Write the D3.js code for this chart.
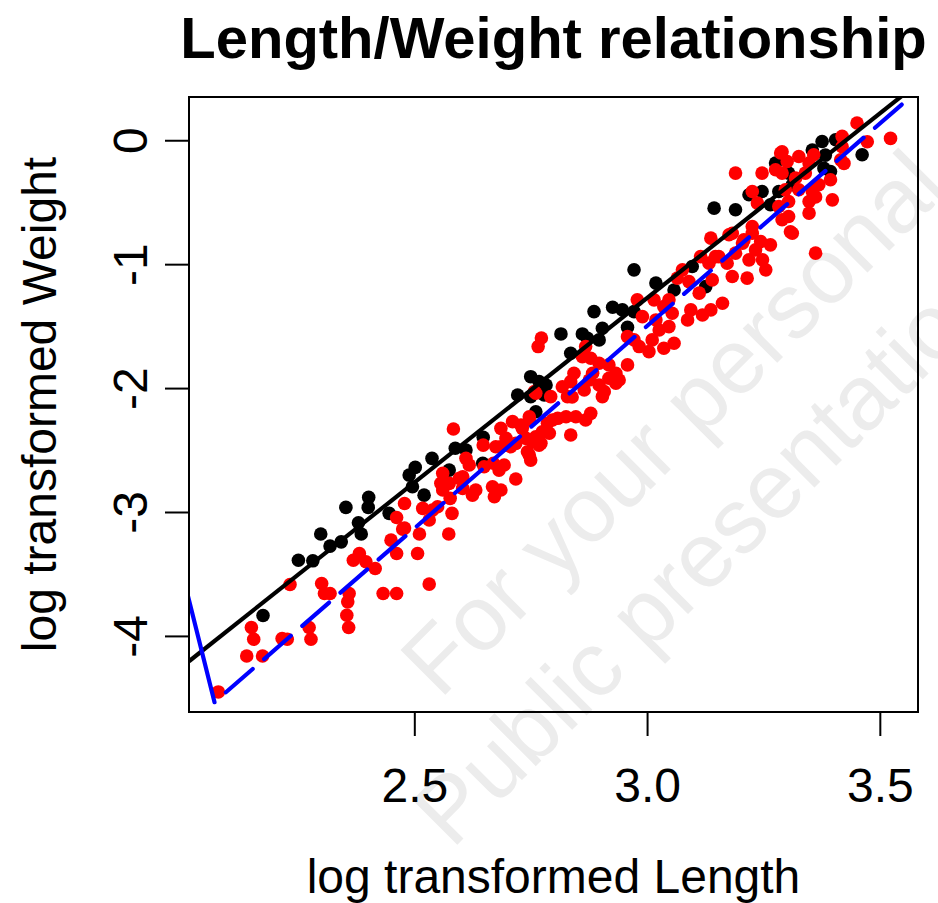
<!DOCTYPE html>
<html>
<head>
<meta charset="utf-8">
<script src="https://cdn.jsdelivr.net/npm/d3@7"></script>
<style>
  html, body { margin: 0; padding: 0; background: #fff; }
  svg { display: block; font-family: "Liberation Sans", Arial, Helvetica, sans-serif; }
</style>
</head>
<body>
<svg id="chart" width="938" height="903"></svg>
<script>
// Group 1 (black): log length / log weight
const blackLen = [2.175, 2.251, 2.282, 2.319, 2.343, 2.299, 2.353, 2.380, 2.386, 2.402,
  2.401, 2.446, 2.489, 2.502, 2.496, 2.521, 2.538, 2.575, 2.588, 2.611,
  2.648, 2.647, 2.722, 2.750, 2.761, 2.775, 2.815, 2.861, 2.872, 2.904,
  2.897, 2.958, 2.836, 2.750, 2.768, 2.783, 2.972, 3.019, 3.058, 2.886,
  2.926, 2.947, 2.972, 3.097, 3.126, 3.376, 3.405, 3.462, 3.276, 3.304,
  3.312, 3.394, 3.144, 3.190, 3.219, 3.247, 3.283, 3.265, 3.355, 3.383,
  3.380, 2.779];
const blackWt = [-3.835, -3.389, -3.394, -3.275, -3.241, -3.178, -2.963, -3.087, -3.178, -2.882,
  -2.963, -3.011, -2.702, -2.640, -2.796, -2.864, -2.567, -2.662, -2.486, -2.500,
  -2.397, -2.607, -2.056, -2.069, -2.191, -1.989, -1.563, -1.563, -1.598, -1.517,
  -1.611, -1.509, -1.719, -1.908, -1.948, -1.975, -1.046, -1.153, -1.208, -1.383,
  -1.348, -1.369, -1.383, -1.019, -1.181, -0.010, 0.004, -0.117, -0.184, -0.265,
  -0.359, -0.252, -0.548, -0.561, -0.440, -0.414, -0.414, -0.521, -0.079, -0.120,
  -0.227, -2.056];

// Group 2 (red): log length / log weight
const redLen = [2.079, 2.140, 2.174, 2.150, 2.155, 2.216, 2.227, 2.233, 2.301, 2.307,
  2.319, 2.274, 2.278, 2.360, 2.357, 2.355, 2.359, 2.369, 2.382, 2.396,
  2.416, 2.433, 2.462, 2.532, 2.462, 2.462, 2.450, 2.475, 2.507, 2.479,
  2.511, 2.518, 2.532, 2.539, 2.550, 2.574, 2.561, 2.575, 2.581, 2.577,
  2.584, 2.597, 2.604, 2.625, 2.618, 2.611, 2.648, 2.650, 2.672, 2.668,
  2.682, 2.693, 2.718, 2.686, 2.711, 2.732, 2.747, 2.718, 2.754, 2.772,
  2.747, 2.761, 2.790, 2.797, 2.675, 2.670, 2.561, 2.557, 2.604, 2.632,
  2.479, 2.773, 2.766, 2.958, 2.868, 2.861, 2.879, 2.897, 2.918, 2.933,
  2.918, 2.897, 2.908, 2.876, 2.865, 2.843, 2.836, 2.818, 2.829, 2.958,
  2.940, 2.883, 2.758, 2.793, 2.826, 2.847, 2.868, 2.808, 2.786, 2.747,
  2.729, 2.697, 2.686, 2.707, 2.740, 2.761, 2.768, 2.743, 2.750, 2.836,
  2.775, 2.686, 3.137, 3.176, 3.208, 3.226, 3.219, 3.215, 3.183, 3.172,
  3.162, 3.137, 3.119, 3.094, 3.087, 3.076, 3.065, 3.090, 3.112, 3.133,
  3.147, 3.047, 3.036, 3.054, 3.019, 3.047, 3.015, 2.990, 3.026, 3.058,
  3.036, 3.011, 3.004, 2.983, 2.972, 2.979, 2.933, 2.904, 2.879, 3.419,
  3.451, 3.287, 3.326, 3.358, 3.348, 3.301, 3.190, 3.247, 3.276, 3.290,
  3.319, 3.340, 3.297, 3.326, 3.355, 3.369, 3.394, 3.416, 3.398, 3.362,
  3.226, 3.237, 3.283, 3.304, 3.348, 3.348, 3.304, 3.290, 3.312, 3.265,
  3.244, 3.248, 3.255, 3.226, 3.205, 3.183, 3.190, 3.154, 3.140, 3.115,
  3.523, 3.473, 3.419, 3.290, 3.362, 3.308, 3.423, 2.839, 3.233];
const redWt = [-4.452, -4.162, -4.162, -3.932, -4.027, -4.021, -4.027, -3.585, -3.577, -3.658,
  -3.658, -3.932, -4.027, -3.658, -3.725, -3.833, -3.932, -3.389, -3.335, -3.402,
  -3.456, -3.658, -3.658, -3.582, -3.044, -3.335, -3.227, -3.138, -3.335, -2.931,
  -3.178, -2.971, -3.065, -2.985, -2.958, -3.178, -2.823, -2.769, -3.011, -2.890,
  -2.330, -2.729, -2.809, -2.864, -2.621, -2.567, -2.460, -2.635, -2.877, -2.796,
  -2.662, -2.621, -2.734, -2.325, -2.271, -2.325, -2.258, -2.446, -2.433, -2.446,
  -2.540, -2.042, -2.365, -2.258, -2.473, -2.607, -2.688, -2.769, -2.716, -2.823,
  -3.130, -1.596, -1.665, -1.585, -1.665, -1.746, -1.759, -1.800, -1.813, -1.880,
  -1.921, -1.975, -2.029, -1.935, -2.015, -1.880, -1.948, -1.989, -2.069, -1.813,
  -1.935, -1.880, -2.029, -2.069, -2.231, -2.231, -2.258, -2.244, -2.284, -2.231,
  -2.298, -2.406, -2.473, -2.473, -2.406, -2.393, -2.460, -2.514, -2.581, -2.379,
  -2.352, -2.823, -0.790, -0.763, -0.804, -0.696, -0.965, -1.113, -1.100, -0.992,
  -1.315, -1.369, -1.410, -1.369, -1.450, -1.046, -1.113, -1.141, -1.234, -0.992,
  -0.939, -1.288, -1.343, -1.396, -1.450, -1.504, -1.288, -1.423, -1.531, -1.638,
  -1.679, -1.611, -1.706, -1.665, -1.611, -1.288, -1.961, -2.069, -2.204, 0.031,
  0.139, -0.103, -0.131, -0.117, -0.184, -0.171, -0.265, -0.265, -0.238, -0.265,
  -0.305, -0.265, -0.400, -0.400, -0.414, -0.359, -0.319, -0.158, -0.481, -0.911,
  -0.414, -0.507, -0.535, -0.494, -0.494, -0.588, -0.615, -0.642, -0.750, -0.844,
  -0.817, -0.965, -1.046, -0.750, -0.830, -0.750, -0.911, -0.939, -1.127, -0.939,
  0.015, -0.012, -0.052, -0.093, -0.457, -0.739, -0.187, -2.072, -0.885];

// Fitted lines: [intercept, slope]
const blackCoef = [-10.21, 2.979];
const blueCoef = [-11.30, 3.267];
const blueRange = [2.0708, 3.547];
// Stray blue segment leading into the start of the dashed fit
const blueLeadLen = [2.000, 2.0708];
const blueLeadWt = [-3.47, -4.535];

// Axis limits and ticks
const xLim = [2.016, 3.582];
const yLim = [-4.614, 0.349];
const xTicks = [2.5, 3.0, 3.5];
const yTicks = [-4, -3, -2, -1, 0];

const plot = { left: 189, right: 918, top: 97, bottom: 712 };

const svg = d3.select("#chart");
const x = d3.scaleLinear().domain(xLim).range([plot.left, plot.right]);
const y = d3.scaleLinear().domain(yLim).range([plot.bottom, plot.top]);

// Watermark text
const wm = svg.append("g").attr("fill", "#ececec").attr("font-size", 92);
wm.append("text").attr("x", 440).attr("y", 700)
  .attr("transform", "rotate(-45,440,700)").text("For your personal");
wm.append("text").attr("x", 452).attr("y", 850)
  .attr("transform", "rotate(-45,452,850)").text("Public presentation");

svg.append("defs").append("clipPath").attr("id", "plotClip")
  .append("rect")
  .attr("x", plot.left).attr("y", plot.top)
  .attr("width", plot.right - plot.left).attr("height", plot.bottom - plot.top);

const inner = svg.append("g").attr("clip-path", "url(#plotClip)");

// Points
const r = 6.8;
inner.append("g").selectAll("circle")
  .data(d3.zip(blackLen, blackWt)).join("circle")
  .attr("cx", d => x(d[0])).attr("cy", d => y(d[1])).attr("r", r).attr("fill", "#000");
inner.append("g").selectAll("circle")
  .data(d3.zip(redLen, redWt)).join("circle")
  .attr("cx", d => x(d[0])).attr("cy", d => y(d[1])).attr("r", r).attr("fill", "#ff0000");

const line = d3.line().x(d => x(d[0])).y(d => y(d[1]));

// Black regression line across the full plot
inner.append("path")
  .attr("d", line(xLim.map(v => [v, blackCoef[0] + blackCoef[1] * v])))
  .attr("fill", "none").attr("stroke", "#000").attr("stroke-width", 4.2);

// Blue lead-in segment and dashed fit
inner.append("path")
  .attr("d", line(d3.zip(blueLeadLen, blueLeadWt)))
  .attr("fill", "none").attr("stroke", "#0000ff").attr("stroke-width", 4.2)
  .attr("stroke-linecap", "round");
inner.append("path")
  .attr("d", line(blueRange.map(v => [v, blueCoef[0] + blueCoef[1] * v])))
  .attr("fill", "none").attr("stroke", "#0000ff").attr("stroke-width", 4.2)
  .attr("stroke-dasharray", "35.5,15.1").attr("stroke-dashoffset", 35.5)
  .attr("stroke-linecap", "round");

// Plot frame
svg.append("rect")
  .attr("x", plot.left).attr("y", plot.top)
  .attr("width", plot.right - plot.left).attr("height", plot.bottom - plot.top)
  .attr("fill", "none").attr("stroke", "#000").attr("stroke-width", 2);

// Axes
const xAxis = svg.append("g")
  .attr("transform", `translate(0,${plot.bottom})`)
  .call(d3.axisBottom(x).tickValues(xTicks).tickFormat(d3.format(".1f"))
    .tickSize(24).tickPadding(32).tickSizeOuter(0));
xAxis.select(".domain").remove();
xAxis.selectAll("line").attr("stroke", "#000").attr("stroke-width", 2);
xAxis.selectAll("text").attr("font-size", 48).attr("fill", "#000")
  .attr("font-family", "Liberation Sans, Arial, sans-serif");

const yAxis = svg.append("g")
  .attr("transform", `translate(${plot.left},0)`)
  .call(d3.axisLeft(y).tickValues(yTicks).tickFormat(d3.format("d")).tickSize(24).tickSizeOuter(0));
yAxis.select(".domain").remove();
yAxis.selectAll("line").attr("stroke", "#000").attr("stroke-width", 2);
yAxis.selectAll("text")
  .attr("font-size", 48).attr("fill", "#000")
  .attr("font-family", "Liberation Sans, Arial, sans-serif")
  .attr("x", 0).attr("y", -42).attr("dy", 0)
  .attr("text-anchor", "middle")
  .attr("transform", "rotate(-90)")
  .text(d => d3.format("d")(d).replace("−", "-"));

// Titles
svg.append("text")
  .attr("x", (plot.left + plot.right) / 2).attr("y", 58)
  .attr("text-anchor", "middle").attr("font-size", 58).attr("font-weight", "bold")
  .text("Length/Weight relationship");
svg.append("text")
  .attr("x", (plot.left + plot.right) / 2).attr("y", 893)
  .attr("text-anchor", "middle").attr("font-size", 48)
  .text("log transformed Length");
svg.append("text")
  .attr("transform", `translate(56,${(plot.top + plot.bottom) / 2}) rotate(-90)`)
  .attr("text-anchor", "middle").attr("font-size", 48)
  .text("log transformed Weight");
</script>
</body>
</html>
